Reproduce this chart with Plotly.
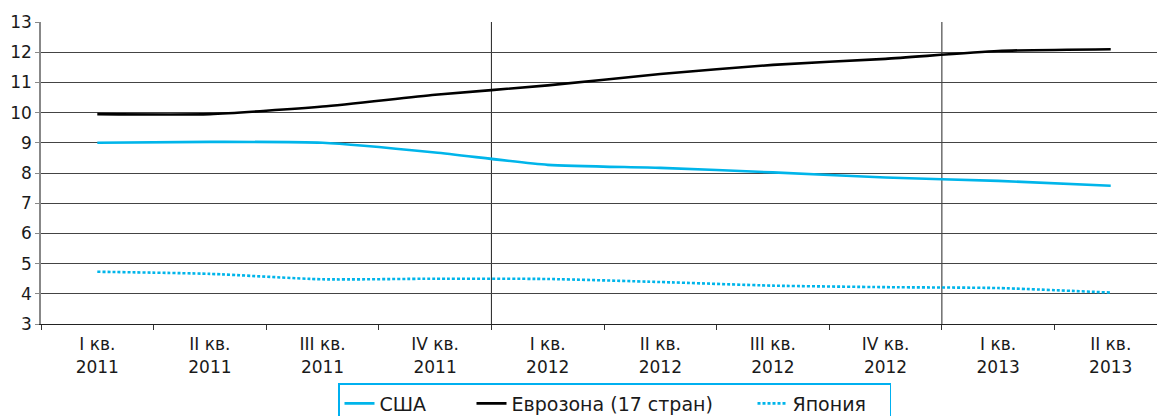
import plotly.graph_objects as go

quarters = ["I кв.<br>2011", "II кв.<br>2011", "III кв.<br>2011", "IV кв.<br>2011",
            "I кв.<br>2012", "II кв.<br>2012", "III кв.<br>2012", "IV кв.<br>2012",
            "I кв.<br>2013", "II кв.<br>2013"]
usa = [9.0, 9.03, 9.0, 8.68, 8.27, 8.17, 8.02, 7.85, 7.74, 7.58]
euro = [9.95, 9.95, 10.2, 10.59, 10.9, 11.28, 11.58, 11.78, 12.04, 12.1]
japan = [4.73, 4.66, 4.48, 4.5, 4.49, 4.39, 4.27, 4.22, 4.19, 4.04]
y_ticks = list(range(3, 14))

CYAN = "#00b5ea"
FONT = "DejaVu Sans, Liberation Sans, Arial, sans-serif"

fig = go.Figure()
fig.add_trace(go.Scatter(x=quarters, y=usa, name="США", mode="lines", legendwidth=87,
                         line=dict(color=CYAN, width=2.6, shape="spline", smoothing=0.6)))
fig.add_trace(go.Scatter(x=quarters, y=euro, name="Еврозона (17 стран)", mode="lines", legendwidth=236,
                         line=dict(color="#000000", width=2.6, shape="spline", smoothing=0.6)))
fig.add_trace(go.Scatter(x=quarters, y=japan, name="Япония", mode="lines", legendwidth=92,
                         line=dict(color=CYAN, width=2.6, dash="3px,2px", shape="spline", smoothing=0.6)))

fig.add_shape(type="line", xref="x", yref="paper", x0=3.5, x1=3.5, y0=0, y1=1,
              line=dict(color="#222222", width=1), layer="below")
fig.add_shape(type="line", xref="x", yref="paper", x0=7.5, x1=7.5, y0=0, y1=1,
              line=dict(color="#6e6e6e", width=1.5), layer="below")

fig.update_layout(
    width=1157, height=416,
    margin=dict(l=41, r=0, t=22, b=92, autoexpand=False),
    paper_bgcolor="white", plot_bgcolor="white",
    font=dict(family=FONT, color="#1a1a1a"),
    showlegend=True,
    legend=dict(orientation="h", x=(338 - 41) / 1116, xanchor="left", y=-59 / 302, yanchor="top",
                bordercolor="#00b0f0", borderwidth=1.5, bgcolor="white",
                font=dict(size=19, family=FONT, color="#1a1a1a"),
                itemwidth=30, traceorder="normal"),
    xaxis=dict(type="category", categoryorder="array", categoryarray=quarters,
               range=[-0.5, 9.411], tickson="boundaries", ticks="outside", ticklen=5,
               tickcolor="#333333", showgrid=False, showline=True, linecolor="#222222",
               linewidth=1, tickfont=dict(size=17, family=FONT, color="#1a1a1a"),
               ticklabelstandoff=5,
               zeroline=False, fixedrange=True, automargin=False),
    yaxis=dict(range=[3, 13], tickvals=y_ticks, ticks="outside", ticklen=4,
               tickcolor="#888888", showgrid=True, gridcolor="#444444", gridwidth=1.2,
               showline=True, linecolor="#888888", linewidth=1.5,
               tickfont=dict(size=17, family=FONT, color="#1a1a1a"),
               zeroline=False, fixedrange=True, automargin=False),
)

fig.write_html("out.html", config={"displayModeBar": False},
               post_script="document.body.style.margin='0';document.body.style.overflow='hidden';")
